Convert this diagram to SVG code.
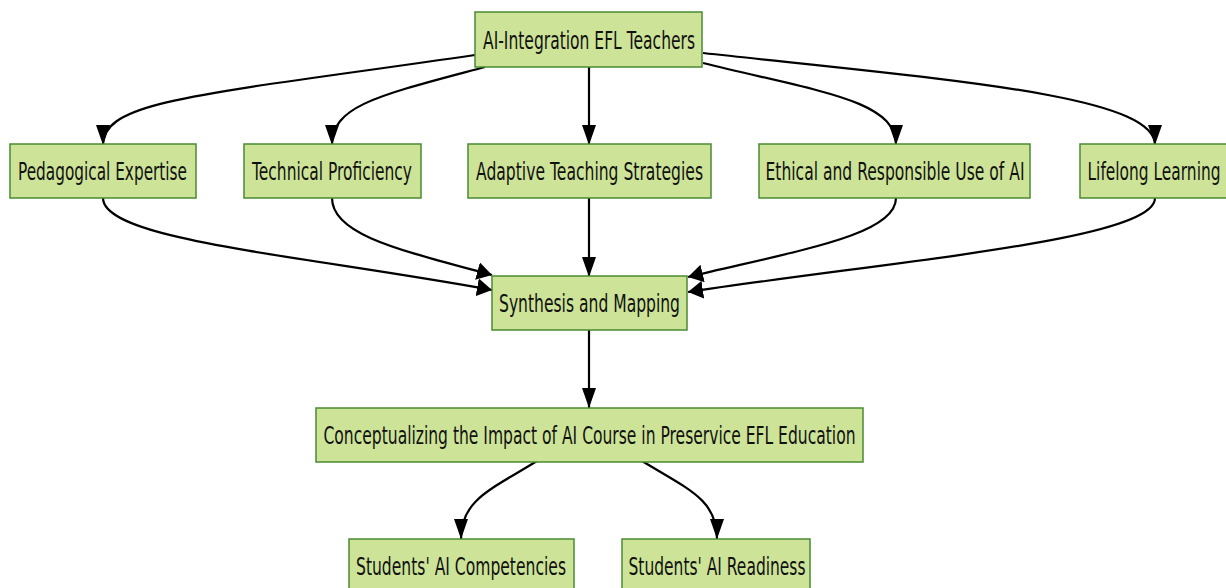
<svg xmlns="http://www.w3.org/2000/svg" width="1226" height="588" viewBox="0 0 1226 588">
<style>
.node rect{fill:#cde498;stroke:#4a8a32;stroke-width:1.5}
.node text{font-family:"DejaVu Sans","Liberation Sans",sans-serif;font-size:24px;fill:#111;text-anchor:middle}
.edge{fill:none;stroke:#000;stroke-width:2.2}
.v{marker-end:url(#arrowV)}
.h{marker-end:url(#arrowH)}
</style>
<defs>
<marker id="arrowV" markerUnits="userSpaceOnUse" viewBox="0 0 20 14" refX="20" refY="7" markerWidth="20" markerHeight="14" orient="auto" preserveAspectRatio="none">
<path d="M0,0 L20,7 L0,14 z" fill="#000"/>
</marker>
<marker id="arrowH" markerUnits="userSpaceOnUse" viewBox="0 0 15 18" refX="15" refY="9" markerWidth="15" markerHeight="18" orient="auto" preserveAspectRatio="none">
<path d="M0,0 L15,9 L0,18 z" fill="#000"/>
</marker>
</defs>
<g id="connectors">
<path class="edge v" d="M475,55 C200,95 103,100 103,145"/>
<path class="edge v" d="M485,67 C380,95 332,105 332,145"/>
<path class="edge v" d="M589,67 L589,145"/>
<path class="edge v" d="M703,63 C820,92 896,100 896,145"/>
<path class="edge v" d="M703,53 C950,80 1155,95 1155,145"/>
<path class="edge h" d="M103,198 C103,240 300,255 492,290"/>
<path class="edge h" d="M332,198 C332,235 400,250 492,275"/>
<path class="edge v" d="M589,198 L589,277"/>
<path class="edge h" d="M896,198 C896,235 800,250 688,277"/>
<path class="edge h" d="M1155,198 C1155,240 900,260 688,292"/>
<path class="edge v" d="M589,330 L589,408"/>
<path class="edge v" d="M537,461 C490,490 461,500 461,539"/>
<path class="edge v" d="M642,461 C690,490 717,500 717,539"/>
</g>
<g id="n-ai" class="node"><rect x="475" y="12" width="227" height="55"/><text transform="translate(589,49) scale(0.64,1)" textLength="331.25" lengthAdjust="spacingAndGlyphs">AI-Integration EFL Teachers</text></g>
<g id="n-ped" class="node"><rect x="10" y="144" width="186" height="54"/><text transform="translate(102.5,180) scale(0.64,1)" textLength="264.1" lengthAdjust="spacingAndGlyphs">Pedagogical Expertise</text></g>
<g id="n-tech" class="node"><rect x="244" y="144" width="177" height="54"/><text transform="translate(332,180) scale(0.64,1)" textLength="250" lengthAdjust="spacingAndGlyphs">Technical Proficiency</text></g>
<g id="n-adapt" class="node"><rect x="468" y="144" width="243" height="54"/><text transform="translate(589.5,180) scale(0.64,1)" textLength="354.7" lengthAdjust="spacingAndGlyphs">Adaptive Teaching Strategies</text></g>
<g id="n-eth" class="node"><rect x="759" y="144" width="271" height="54"/><text transform="translate(895,180) scale(0.64,1)" textLength="404.7" lengthAdjust="spacingAndGlyphs">Ethical and Responsible Use of AI</text></g>
<g id="n-life" class="node"><rect x="1080" y="144" width="150" height="54"/><text transform="translate(1154,180) scale(0.64,1)" textLength="207.8" lengthAdjust="spacingAndGlyphs">Lifelong Learning</text></g>
<g id="n-synth" class="node"><rect x="492" y="276" width="195" height="54"/><text transform="translate(589.5,312) scale(0.64,1)" textLength="282.8" lengthAdjust="spacingAndGlyphs">Synthesis and Mapping</text></g>
<g id="n-concept" class="node"><rect x="316" y="408" width="547" height="54"/><text transform="translate(589.5,444) scale(0.64,1)" textLength="831.25" lengthAdjust="spacingAndGlyphs">Conceptualizing the Impact of AI Course in Preservice EFL Education</text></g>
<g id="n-comp" class="node"><rect x="349" y="539" width="225" height="54"/><text transform="translate(461,575) scale(0.64,1)" textLength="328.1" lengthAdjust="spacingAndGlyphs">Students' AI Competencies</text></g>
<g id="n-ready" class="node"><rect x="622" y="539" width="188" height="54"/><text transform="translate(717,575) scale(0.64,1)" textLength="276.6" lengthAdjust="spacingAndGlyphs">Students' AI Readiness</text></g>
</svg>
